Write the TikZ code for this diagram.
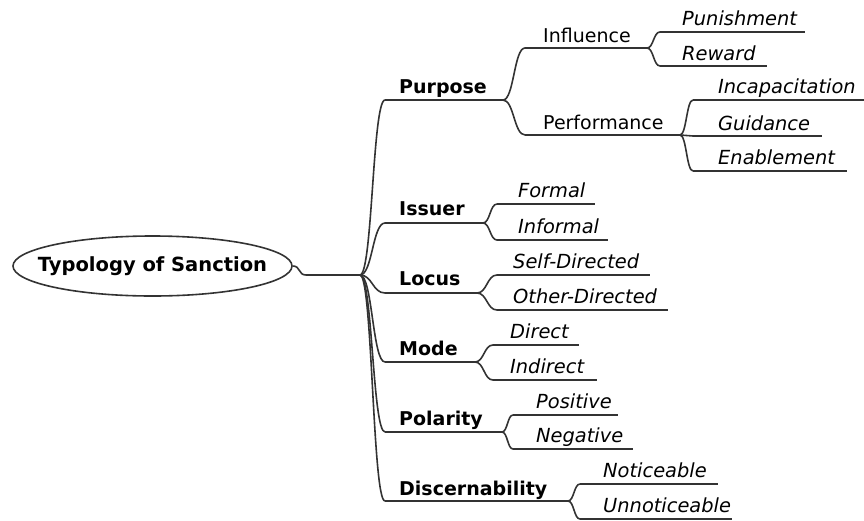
\documentclass[tikz,border=0pt]{standalone}
\usepackage{fontspec}
\setmainfont{DejaVu Sans}
\usetikzlibrary{calc,shapes.geometric}
\tikzset{
  conn/.style={line width=1.6pt, draw=black!80},
  ul/.style={line width=1.6pt, draw=black!80},
  mainlab/.style={anchor=base west, inner sep=0pt, font=\fontsize{19}{22}\selectfont\bfseries},
  midlab/.style={anchor=base west, inner sep=0pt, font=\fontsize{19}{22}\selectfont},
  leaflab/.style={anchor=base west, inner sep=0pt, font=\fontsize{19.4}{22}\selectfont\itshape},
  rootnode/.style={ellipse, draw=black!80, line width=1.6pt, inner xsep=-30pt, inner ysep=0pt, minimum width=279pt, minimum height=60pt, font=\fontsize{19.5}{22}\selectfont\bfseries}
}
\newcommand\branchto[2]{\draw[conn] let \p1=(#1), \p2=(#2) in (#1) .. controls ({(\x1+\x2)/2},\y1) and ({(\x1+\x2)/2},\y2) .. (#2);}
% \titem{name}{textx}{baseline}{ulx1}{ulx2}{uly}{style}{text}
\newcommand\titem[8]{%
  \coordinate (#1-l) at (#4,#6);
  \coordinate (#1-r) at (#5,#6);
  \node[#7] (#1) at (#2,#3) {#8};
  \draw[ul] (#1-l) -- (#1-r);
}
\begin{document}
\begin{tikzpicture}[x=1pt,y=-1pt]
\useasboundingbox (0,0) rectangle (864,520);
\node[rootnode] (root) at (152.5,266) {Typology of Sanction};
\coordinate (hub) at (360,275);
\coordinate (rj) at (306,275);
\draw[conn] (root.east) .. controls +(8,0) and +(-8,0) .. (rj) -- (hub);

% main branches
\titem{pur}{399}{93}{385}{503}{100}{mainlab}{Purpose}
\titem{iss}{399}{215}{385}{483}{223}{mainlab}{Issuer}
\titem{loc}{399}{285}{385}{477}{293}{mainlab}{Locus}
\titem{mod}{399}{355}{385}{475}{362}{mainlab}{Mode}
\titem{pol}{399}{425}{385}{502}{432}{mainlab}{Polarity}
\titem{dis}{399}{495}{385}{568}{501}{mainlab}{Discernability}

% purpose subtree
\titem{inf}{543}{42}{525}{647}{48}{midlab}{Influence}
\titem{per}{543}{129}{525}{680}{135}{midlab}{Performance}
\titem{pun}{682}{25}{660}{805}{32}{leaflab}{Punishment}
\titem{rew}{682}{60}{660}{767}{66}{leaflab}{Reward}
\titem{inc}{718}{93}{693}{864}{100}{leaflab}{Incapacitation}
\titem{gui}{718}{130}{693}{822}{136}{leaflab}{Guidance}
\titem{ena}{718}{164}{693}{847}{171}{leaflab}{Enablement}

% issuer
\titem{for}{518}{197}{497}{595}{204}{leaflab}{Formal}
\titem{inl}{518}{233}{497}{608}{240}{leaflab}{Informal}
% locus
\titem{sel}{513}{268}{497}{650}{275}{leaflab}{Self-Directed}
\titem{oth}{513}{303}{497}{668}{310}{leaflab}{Other-Directed}
% mode
\titem{dir}{510}{338}{493}{579}{345}{leaflab}{Direct}
\titem{ind}{510}{373}{493}{597}{380}{leaflab}{Indirect}
% polarity
\titem{pos}{536}{408}{513}{618}{415}{leaflab}{Positive}
\titem{neg}{536}{442}{513}{633}{449}{leaflab}{Negative}
% discernability
\titem{not}{603}{477}{580}{718}{484}{leaflab}{Noticeable}
\titem{unn}{603}{512}{580}{732}{519}{leaflab}{Unnoticeable}

% connectors
\branchto{hub}{pur-l}
\branchto{hub}{iss-l}
\branchto{hub}{loc-l}
\branchto{hub}{mod-l}
\branchto{hub}{pol-l}
\branchto{hub}{dis-l}
\branchto{pur-r}{inf-l}
\branchto{pur-r}{per-l}
\branchto{inf-r}{pun-l}
\branchto{inf-r}{rew-l}
\branchto{per-r}{inc-l}
\branchto{per-r}{gui-l}
\branchto{per-r}{ena-l}
\branchto{iss-r}{for-l}
\branchto{iss-r}{inl-l}
\branchto{loc-r}{sel-l}
\branchto{loc-r}{oth-l}
\branchto{mod-r}{dir-l}
\branchto{mod-r}{ind-l}
\branchto{pol-r}{pos-l}
\branchto{pol-r}{neg-l}
\branchto{dis-r}{not-l}
\branchto{dis-r}{unn-l}
\end{tikzpicture}
\end{document}
